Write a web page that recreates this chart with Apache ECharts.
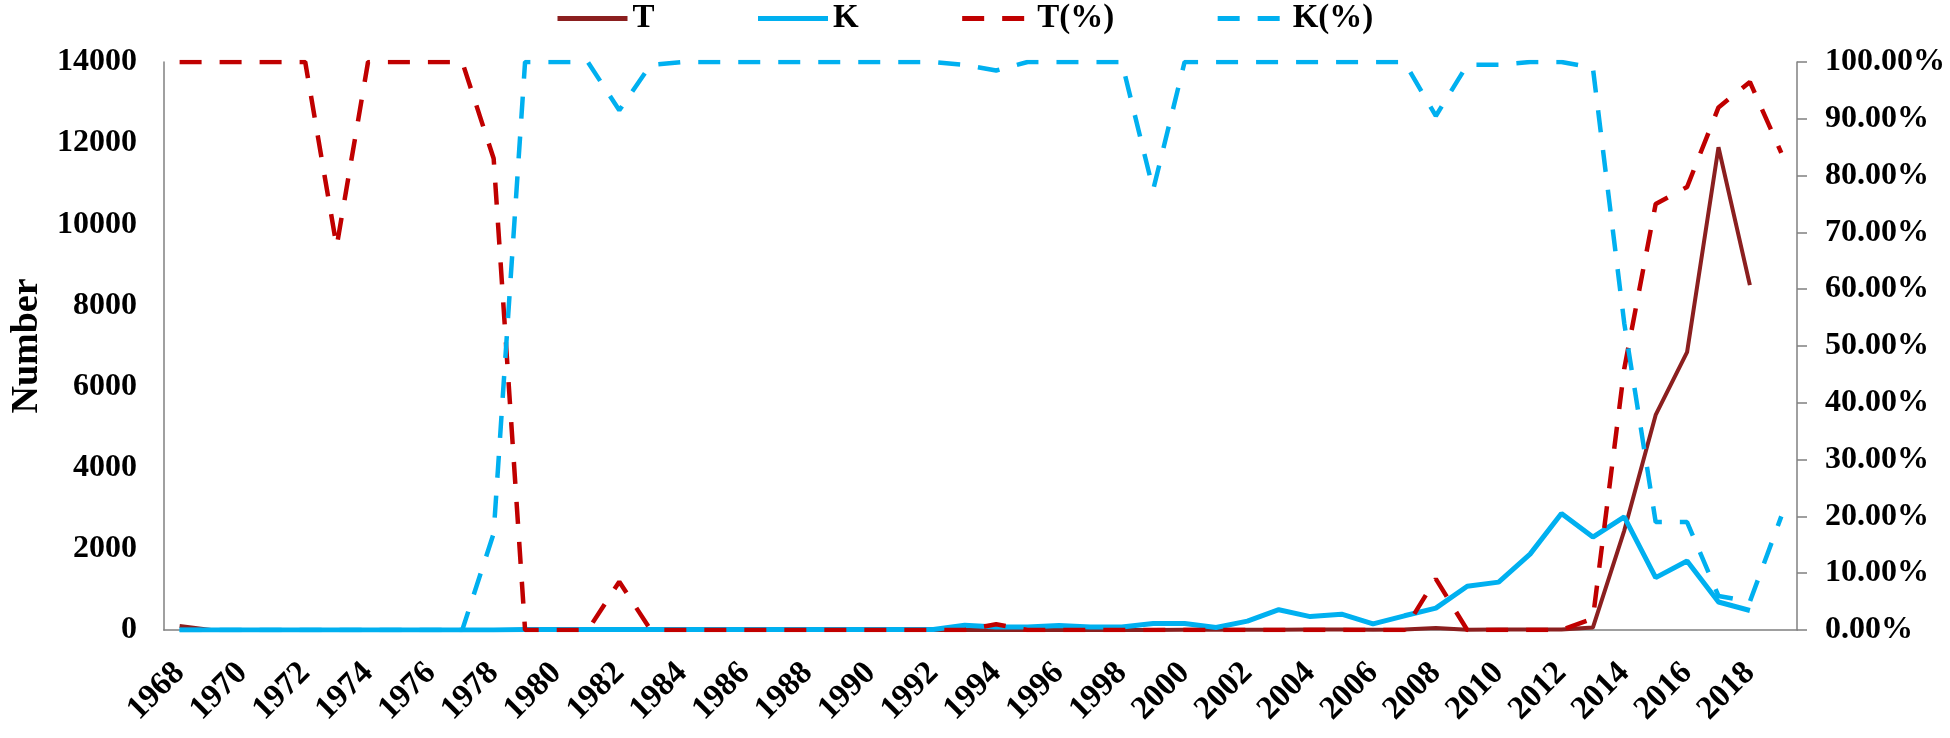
<!DOCTYPE html>
<html>
<head>
<meta charset="utf-8">
<script src="https://cdn.jsdelivr.net/npm/echarts/dist/echarts.min.js"></script>
<style>
html,body{margin:0;padding:0;background:#fff;}
#chart{width:1950px;height:738px;}
</style>
</head>
<body>
<div id="chart"></div>
<script>
const years = [];
for (let y = 1968; y <= 2019; y++) years.push(String(y));

// T counts (left axis)
const T = [100,0,0,0,0,0,0,0,0,0,0,0,0,0,0,0,
  0,0,0,0,0,0,0,0,0,
  0,2,0,0,0,0,0,
  5,5,5,5,10,10,5,15,50,5,10,10,15,60,
  2450,5300,6850,11900,8500,null];

// K counts (left axis)
const K = [0,0,0,0,0,0,0,0,0,0,2,
  10,10,10,10,10,10,10,10,10,10,10,10,10,10,
  115,75,75,110,75,75,160,160,60,220,500,330,390,150,350,540,
  1080,1180,1870,2870,2290,2790,1290,1700,690,480,null];

// T share, percent (right axis)
const Tpct = [100,100,100,100,100,67.5,100,100,100,100,83,
  0,0,0,8.5,0,
  0,0,0,0,0,0,0,0,0,0,1,
  0,0,0,0,0,0,0,0,0,0,0,0,0,9,0,0,0,0,2,
  46,75,78,92,96.5,84];

// K share, percent (right axis)
const Kpct = [0,0,0,0,0,0,0,0,0,0,17,
  100,100,100,91.5,99.5,
  100,100,100,100,100,100,100,100,100,99.5,98.5,
  100,100,100,100,77.5,100,100,100,100,100,100,100,100,90.5,99.5,99.5,100,100,99,
  54,19,19,6,5,20];

const leftTicks = {min:0, max:14000, interval:2000};
const rightTicks = {min:0, max:100, interval:10};

const FONT = 'Liberation Serif';
const chart = echarts.init(document.getElementById('chart'), null, {renderer:'canvas'});
chart.setOption({
  animation:false,
  backgroundColor:'#ffffff',
  legend:{
    data:['T','K','T(%)','K(%)'],
    left:550, top:-3,
    itemWidth:70, itemHeight:14, itemGap:101,
    itemStyle:{opacity:0},
    lineStyle:{width:5},
    textStyle:{fontFamily:FONT, fontWeight:'bold', fontSize:33, color:'#000'}
  },
  grid:{left:152, right:153, top:62, bottom:108, containLabel:false},
  xAxis:{
    type:'category', data:years, boundaryGap:true,
    axisLine:{show:true, lineStyle:{color:'#808080', width:1.5}},
    axisTick:{show:false},
    axisLabel:{interval:1, rotate:45, margin:38, fontFamily:FONT, fontWeight:'bold', fontSize:33, color:'#000'},
    splitLine:{show:false}
  },
  yAxis:[
    {
      type:'value', min:leftTicks.min, max:leftTicks.max, interval:leftTicks.interval,
      name:'Number', nameLocation:'middle', nameGap:116,
      nameTextStyle:{fontFamily:FONT, fontWeight:'bold', fontSize:38, color:'#000'},
      axisLine:{show:true, lineStyle:{color:'#808080', width:1.5}},
      axisTick:{show:false},
      axisLabel:{margin:27, fontFamily:FONT, fontWeight:'bold', fontSize:32, color:'#000',
        formatter:function(v){return String(v);}},
      splitLine:{show:false}
    },
    {
      type:'value', position:'right', min:rightTicks.min, max:rightTicks.max, interval:rightTicks.interval,
      axisLine:{show:true, lineStyle:{color:'#808080', width:1.5}},
      axisTick:{show:true, inside:false, length:10, lineStyle:{color:'#808080', width:1.5}},
      axisLabel:{margin:28, fontFamily:FONT, fontWeight:'bold', fontSize:32, color:'#000',
        formatter:function(v){return v.toFixed(2)+'%';}},
      splitLine:{show:false}
    }
  ],
  series:[
    {name:'T', type:'line', yAxisIndex:0, data:T, symbol:'none', showSymbol:false,
      lineStyle:{color:'#8B1F1F', width:4}, itemStyle:{color:'#8B1F1F'}},
    {name:'K', type:'line', yAxisIndex:0, data:K, symbol:'none', showSymbol:false,
      lineStyle:{color:'#00B0F0', width:5}, itemStyle:{color:'#00B0F0'}},
    {name:'T(%)', type:'line', yAxisIndex:1, data:Tpct, symbol:'none', showSymbol:false,
      lineStyle:{color:'#C00000', width:4.5, type:[22,18]}, itemStyle:{color:'#C00000'}},
    {name:'K(%)', type:'line', yAxisIndex:1, data:Kpct, symbol:'none', showSymbol:false,
      lineStyle:{color:'#00B0F0', width:4.5, type:[22,18]}, itemStyle:{color:'#00B0F0'}}
  ]
});
</script>
</body>
</html>
